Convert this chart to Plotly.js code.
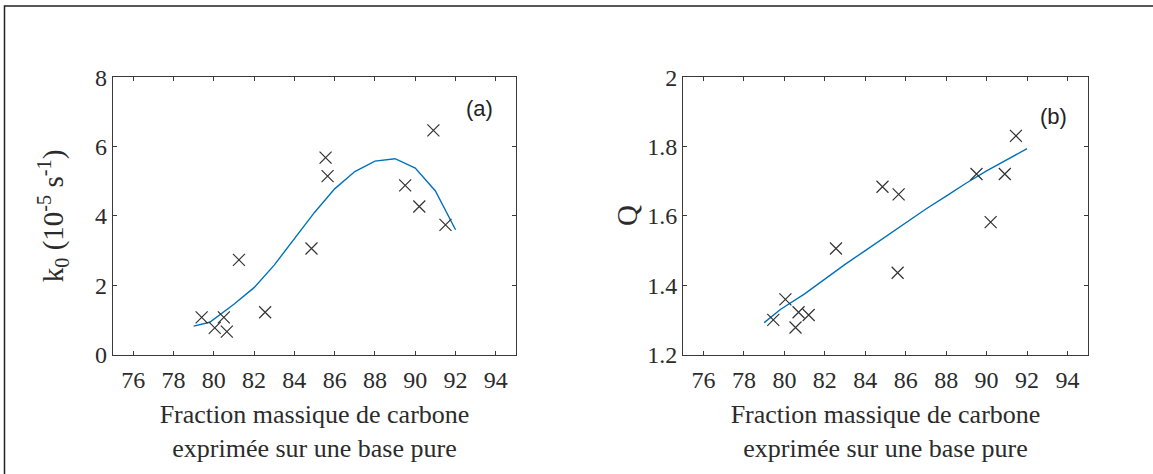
<!DOCTYPE html>
<html>
<head>
<meta charset="utf-8">
<script src="https://cdn.plot.ly/plotly-3.0.1.min.js"></script>
<style>html,body{margin:0;padding:0;background:#fff;}#chart{width:1153px;height:474px;}</style>
</head>
<body>
<div id="chart"></div>
<script>
// Measured carbon mass fraction (pure basis), %
const carbonX = [79.4, 80.05, 80.5, 80.65, 81.25, 82.55, 84.85, 85.55, 85.65, 89.5, 90.2, 90.9, 91.5];
// Panel (a): k0 measured (1e-5 s^-1), same order as carbonX
const k0Measured = [1.07, 0.77, 1.07, 0.66, 2.73, 1.22, 3.06, 5.68, 5.15, 4.88, 4.27, 6.47, 3.74];
// Panel (b): Q measured
const qX = [79.45, 80.05, 80.55, 80.7, 81.2, 82.55, 84.85, 85.6, 85.65, 89.5, 90.2, 90.9, 91.45];
const qMeasured = [1.30, 1.359, 1.278, 1.322, 1.314, 1.506, 1.684, 1.436, 1.662, 1.721, 1.582, 1.721, 1.831];
// Model curves
const modelX = [79, 79.8, 81, 82, 83, 84, 85, 86, 87, 88, 89, 90, 91, 92];
const k0Model = [0.82, 0.93, 1.45, 1.93, 2.58, 3.35, 4.1, 4.78, 5.28, 5.58, 5.65, 5.38, 4.72, 3.6];
const qModel = [1.292, 1.33, 1.375, 1.418, 1.46, 1.50, 1.54, 1.58, 1.62, 1.657, 1.695, 1.73, 1.763, 1.794];
// Axis ticks and labels
const xTicks = [76, 78, 80, 82, 84, 86, 88, 90, 92, 94];
const k0Ticks = [0, 2, 4, 6, 8];
const qTicks = [1.2, 1.4, 1.6, 1.8, 2];
const xTitle = 'Fraction massique de carbone<br>exprimée sur une base pure';
const k0Title = 'k<sub>0</sub> (10<sup>-5</sup> s<sup>-1</sup>)';
const qTitle = 'Q';
const panelLabels = ['(a)', '(b)'];

const serif = 'Liberation Serif, Times New Roman, serif';
const axisColor = '#3a3a3a';
const textColor = '#2b2b2b';
const lineBlue = '#0072BD';
const markStyle = {symbol: 'x-thin', size: 12, color: '#333', line: {width: 1.2, color: '#333'}};

const traces = [
  {x: modelX, y: k0Model, type: 'scatter', mode: 'lines', line: {color: lineBlue, width: 1.4}, xaxis: 'x', yaxis: 'y', hoverinfo: 'skip'},
  {x: carbonX, y: k0Measured, type: 'scatter', mode: 'markers', marker: markStyle, xaxis: 'x', yaxis: 'y'},
  {x: modelX, y: qModel, type: 'scatter', mode: 'lines', line: {color: lineBlue, width: 1.4}, xaxis: 'x2', yaxis: 'y2', hoverinfo: 'skip'},
  {x: qX, y: qMeasured, type: 'scatter', mode: 'markers', marker: markStyle, xaxis: 'x2', yaxis: 'y2'}
];

function xAxis(domain, anchor) {
  return {
    domain: domain, anchor: anchor, range: [75, 95], tickvals: xTicks, ticktext: xTicks.map(String),
    showgrid: false, zeroline: false, showline: true, mirror: 'ticks', ticks: 'inside', ticklen: 4,
    tickcolor: axisColor, linecolor: axisColor, linewidth: 1.3, tickwidth: 1,
    tickfont: {family: serif, size: 24, color: textColor}, ticklabelstandoff: 3,
    title: {text: xTitle, font: {family: serif, size: 26, color: textColor}, standoff: 13},
    automargin: false
  };
}
function yAxis(domain, anchor, range, ticks, title, fontSize, standoff) {
  return {
    domain: domain, anchor: anchor, range: range, tickvals: ticks, ticktext: ticks.map(String),
    showgrid: false, zeroline: false, showline: true, mirror: 'ticks', ticks: 'inside', ticklen: 4,
    tickcolor: axisColor, linecolor: axisColor, linewidth: 1.3, tickwidth: 1,
    tickfont: {family: serif, size: 24, color: textColor},
    title: {text: title, font: {family: serif, size: fontSize, color: textColor}, standoff: standoff},
    automargin: false
  };
}

const W = 1153, H = 474;
const yDom = [1 - 354.5 / H, 1 - 77.3 / H];
const layout = {
  width: W, height: H,
  margin: {l: 0, r: 0, t: 0, b: 0},
  paper_bgcolor: '#fff', plot_bgcolor: '#fff',
  showlegend: false,
  xaxis: xAxis([113 / W, 516 / W], 'y'),
  yaxis: yAxis(yDom, 'x', [0, 8], k0Ticks, k0Title, 29, 22),
  xaxis2: xAxis([683.3 / W, 1087.7 / W], 'y2'),
  yaxis2: yAxis(yDom, 'x2', [1.2, 2], qTicks, '', 29, 0),
  annotations: [
    {text: qTitle, xref: 'paper', yref: 'paper', x: 627 / W, y: (yDom[0] + yDom[1]) / 2, textangle: -90, showarrow: false, xanchor: 'center', yanchor: 'middle', font: {family: serif, size: 29, color: textColor}},
    {text: panelLabels[0], xref: 'x', yref: 'y', x: 93.2, y: 7.1, showarrow: false, font: {family: 'Liberation Sans, Arial, sans-serif', size: 22, color: '#222'}},
    {text: panelLabels[1], xref: 'x2', yref: 'y2', x: 93.3, y: 1.887, showarrow: false, font: {family: 'Liberation Sans, Arial, sans-serif', size: 22, color: '#222'}}
  ],
  shapes: [
    {type: 'rect', xref: 'paper', yref: 'paper', x0: 4.5 / W, x1: 1.02, y0: -0.02, y1: 1 - 6 / H, line: {color: '#222', width: 1.5}, fillcolor: 'rgba(0,0,0,0)'}
  ]
};

Plotly.newPlot('chart', traces, layout, {displayModeBar: false, staticPlot: true});
</script>
</body>
</html>
